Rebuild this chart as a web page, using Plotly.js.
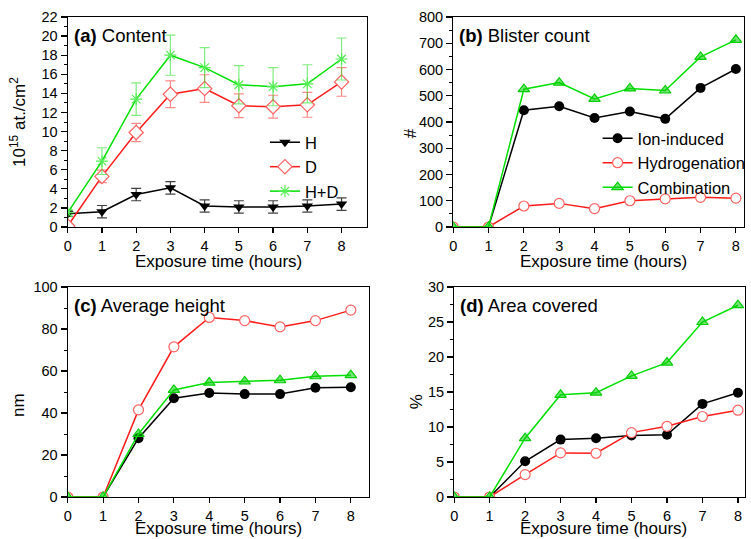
<!DOCTYPE html>
<html>
<head>
<meta charset="utf-8">
<script src="https://cdn.plot.ly/plotly-3.0.1.min.js"></script>
<style>html,body{margin:0;padding:0;background:#fff;}</style>
</head>
<body>
<div id="chart" style="width:751px;height:539px;"></div>
<script>
// ---- data ----
const hours = [0, 1, 2, 3, 4, 5, 6, 7, 8];

// (a) Content (10^15 at./cm^2)
const contentH = [1.4, 1.6, 3.4, 4.1, 2.2, 2.1, 2.1, 2.2, 2.4];
const contentHErr = [0.3, 0.65, 0.65, 0.65, 0.65, 0.65, 0.65, 0.65, 0.65];
const contentD = [0.1, 5.3, 9.9, 13.9, 14.5, 12.7, 12.6, 12.8, 15.2];
const contentDErr = [0.2, 0.65, 0.95, 1.4, 1.45, 1.25, 1.2, 1.3, 1.5];
const contentHD = [1.5, 6.9, 13.4, 18.0, 16.7, 14.9, 14.7, 15.0, 17.6];
const contentHDErr = [0.3, 1.4, 1.7, 2.1, 2.1, 2.0, 2.0, 2.0, 2.2];

// (b) Blister count
const countIon = [0, 0, 445, 460, 415, 440, 412, 530, 602];
const countHyd = [0, 0, 80, 90, 70, 100, 107, 113, 110];
const countComb = [0, 0, 525, 550, 488, 528, 520, 648, 713];

// (c) Average height (nm)
const heightIon = [0, 0, 28, 47, 49.5, 49, 49, 52, 52.3];
const heightHyd = [0, 0, 41.5, 71.5, 85.5, 84, 81, 84, 89];
const heightComb = [0, 0, 30, 51, 54.5, 55, 55.6, 57.5, 58];

// (d) Area covered (%)
const areaIon = [0, 0, 5.1, 8.2, 8.4, 8.8, 8.9, 13.3, 14.9];
const areaHyd = [0, 0, 3.2, 6.3, 6.25, 9.2, 10.1, 11.5, 12.4];
const areaComb = [0, 0, 8.4, 14.6, 14.9, 17.3, 19.2, 25.0, 27.4];

const labelsA = ['H', 'D', 'H+D'];
const labelsB = ['Ion-induced', 'Hydrogenation', 'Combination'];
const panelTitles = ['<b>(a)</b> Content', '<b>(b)</b> Blister count', '<b>(c)</b> Average height', '<b>(d)</b> Area covered'];
const xTitle = 'Exposure time (hours)';
const yTitles = ['10<sup>15</sup> at./cm<sup>2</sup>', '#', 'nm', '%'];

// ---- styles ----
const BLACK = '#000000', RED = '#ff1a1a', GREEN = '#00e000';
const FONT = 'Liberation Sans, Arial, sans-serif';
const W = 751, H = 539;

const traces = [];
function errStyle(arr, col) {
  return {type: 'data', array: arr, visible: true, color: col, thickness: 1.2, width: 5};
}
// (a)
traces.push({x: hours, y: contentH, name: labelsA[0], xaxis: 'x', yaxis: 'y', legend: 'legend',
  mode: 'lines+markers', line: {color: BLACK, width: 1.5},
  marker: {symbol: 'triangle-down', size: 10, color: BLACK},
  error_y: errStyle(contentHErr, 'rgba(0,0,0,0.75)')});
traces.push({x: hours, y: contentD, name: labelsA[1], xaxis: 'x', yaxis: 'y', legend: 'legend',
  mode: 'lines+markers', line: {color: RED, width: 1.5},
  marker: {symbol: 'diamond', size: 11, color: '#ffffff', line: {color: '#ff6060', width: 1.2}},
  error_y: errStyle(contentDErr, 'rgba(255,60,60,0.6)')});
traces.push({x: hours, y: contentHD, name: labelsA[2], xaxis: 'x', yaxis: 'y', legend: 'legend',
  mode: 'lines+markers', line: {color: GREEN, width: 1.5},
  marker: {symbol: 'asterisk-open', size: 10, color: '#55ee55', line: {color: '#55ee55', width: 1.2}},
  error_y: errStyle(contentHDErr, 'rgba(0,220,0,0.5)')});

function triple(yIon, yHyd, yComb, xa, ya, showLeg) {
  traces.push({x: hours, y: yIon, name: labelsB[0], xaxis: xa, yaxis: ya, legend: 'legend2', showlegend: showLeg,
    mode: 'lines+markers', line: {color: BLACK, width: 1.5},
    marker: {symbol: 'circle', size: 10, color: BLACK}});
  traces.push({x: hours, y: yHyd, name: labelsB[1], xaxis: xa, yaxis: ya, legend: 'legend2', showlegend: showLeg,
    mode: 'lines+markers', line: {color: RED, width: 1.5},
    marker: {symbol: 'circle', size: 10, color: '#ffffff', line: {color: '#ff6060', width: 1.2}}});
  traces.push({x: hours, y: yComb, name: labelsB[2], xaxis: xa, yaxis: ya, legend: 'legend2', showlegend: showLeg,
    mode: 'lines+markers', line: {color: GREEN, width: 1.5},
    marker: {symbol: 'triangle-up', size: 10, color: 'rgba(0,200,0,0.55)', line: {color: '#00d000', width: 1.2}}});
}
triple(countIon, countHyd, countComb, 'x2', 'y2', true);
triple(heightIon, heightHyd, heightComb, 'x3', 'y3', false);
triple(areaIon, areaHyd, areaComb, 'x4', 'y4', false);

// panel pixel boxes [left, right, top, bottom]
const boxes = [[68, 368, 17, 227], [455, 747, 17, 227], [68, 370, 287, 497], [456, 748, 287, 497]];
const xRanges = [[0, 8.73], [0, 8.23], [0, 8.5], [0, 8.2]];
const yRanges = [[0, 22], [0, 800], [0, 100], [0, 30]];
const yDticks = [2, 100, 20, 5];
const yMinor = [1, 50, 10, 2.5];
// title positions in pixels
const xTitlePos = [[219, 261], [606, 261], [219, 528], [606, 528]];
const yTitlePos = [[18, 122], [413, 133], [18, 405], [418, 402]];

const layout = {
  width: W, height: H, margin: {l: 0, r: 0, t: 0, b: 0},
  paper_bgcolor: '#fff', plot_bgcolor: '#fff',
  font: {family: FONT, color: '#000', size: 14},
  annotations: [],
};
const ids = ['', '2', '3', '4'];
boxes.forEach((b, i) => {
  const xd = [b[0] / W, b[1] / W];
  const yd = [1 - b[3] / H, 1 - b[2] / H];
  layout['xaxis' + ids[i]] = {
    domain: xd, anchor: 'y' + ids[i], range: xRanges[i], dtick: 1, tick0: 0,
    showline: true, mirror: true, linecolor: '#000', linewidth: 1.2,
    ticks: 'outside', ticklen: 5, tickwidth: 1.2, tickcolor: '#000',
    showgrid: false, zeroline: false, tickfont: {size: 14.5, family: FONT}
  };
  layout['yaxis' + ids[i]] = {
    domain: yd, anchor: 'x' + ids[i], range: yRanges[i], dtick: yDticks[i], tick0: 0,
    showline: true, mirror: true, linecolor: '#000', linewidth: 1.2,
    ticks: 'outside', ticklen: 6, tickwidth: 1.2, tickcolor: '#000',
    minor: {dtick: yMinor[i], ticks: 'outside', ticklen: 3, tickwidth: 1, tickcolor: '#000', showgrid: false},
    showgrid: false, zeroline: false, tickfont: {size: 14.5, family: FONT}
  };
  layout.annotations.push({
    text: panelTitles[i], xref: 'paper', yref: 'paper', x: (b[0] + 4) / W, y: 1 - (b[2] + 18) / H,
    xanchor: 'left', yanchor: 'middle', showarrow: false, font: {size: 18.5, family: FONT}
  });
  layout.annotations.push({
    text: xTitle, xref: 'paper', yref: 'paper', x: xTitlePos[i][0] / W, y: 1 - xTitlePos[i][1] / H,
    xanchor: 'center', yanchor: 'middle', showarrow: false, font: {size: 17, family: FONT}
  });
  layout.annotations.push({
    text: yTitles[i], xref: 'paper', yref: 'paper', x: yTitlePos[i][0] / W, y: 1 - yTitlePos[i][1] / H,
    xanchor: 'center', yanchor: 'middle', textangle: -90, showarrow: false, font: {size: 17, family: FONT}
  });
});
layout.legend = {x: 266 / W, y: 1 - 125 / H, xanchor: 'left', yanchor: 'top', bgcolor: 'rgba(0,0,0,0)',
  font: {size: 16.5, family: FONT}, tracegroupgap: 0};
layout.legend2 = {x: 600 / W, y: 1 - 121 / H, xanchor: 'left', yanchor: 'top', bgcolor: 'rgba(0,0,0,0)',
  font: {size: 16.5, family: FONT}, tracegroupgap: 0};

Plotly.newPlot('chart', traces, layout, {displayModeBar: false, staticPlot: true});
</script>
</body>
</html>
